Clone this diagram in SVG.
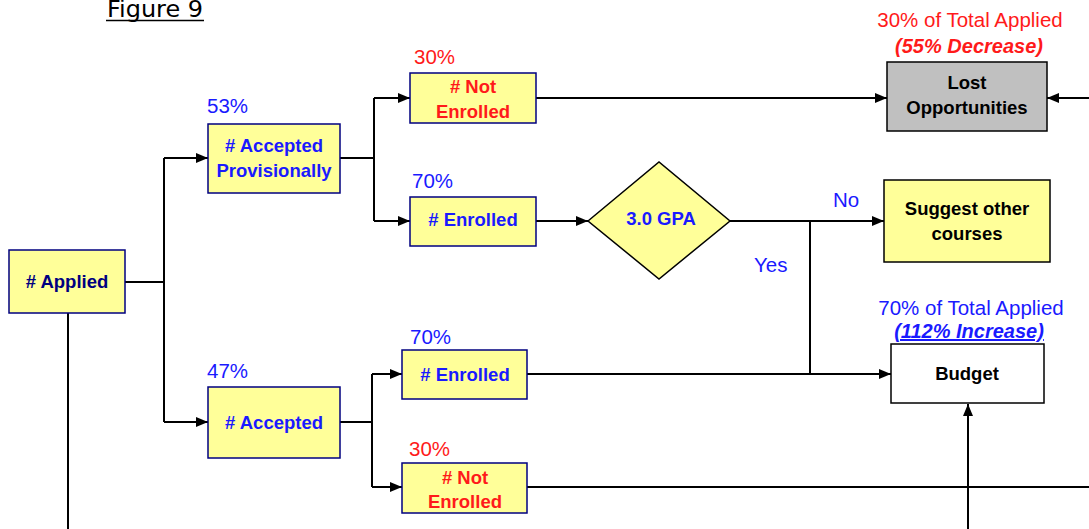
<svg xmlns="http://www.w3.org/2000/svg" width="1089" height="529" viewBox="0 0 1089 529">
<style>
.box{fill:#FFFF99;stroke:#000080;stroke-width:1.5}
.bt{font-family:"Liberation Sans",Arial,sans-serif;font-weight:bold;font-size:18.5px;text-anchor:middle}
.lbl{font-family:"Liberation Sans",Arial,sans-serif;font-size:20.5px}
.blue{fill:#1a1aff}
.red{fill:#ff1a1a}
.navy{fill:#000080}
.blk{fill:#000}
.bi{font-family:"Liberation Sans",Arial,sans-serif;font-weight:bold;font-style:italic;font-size:20px;text-anchor:middle}
.ln{fill:none;stroke:#000;stroke-width:2}
</style>
<defs>
<marker id="ah" viewBox="0 0 12 10" refX="12" refY="5" markerWidth="12" markerHeight="10" markerUnits="userSpaceOnUse" orient="auto">
<path d="M0,0 L12,5 L0,10 Z" fill="#000"/>
</marker>
</defs>
<rect width="1089" height="529" fill="#fff"/>
<g id="title">
<text x="107" y="17" font-family="'DejaVu Sans',Verdana,sans-serif" font-size="23" textLength="96" lengthAdjust="spacingAndGlyphs" fill="#000">Figure 9</text>
<line x1="106" y1="20.5" x2="204" y2="20.5" stroke="#000" stroke-width="1.5"/>
</g>
<g id="connectors">
<path class="ln" d="M125,282 H164 M164,158 V422"/>
<path class="ln" d="M164,158 H208" marker-end="url(#ah)"/>
<path class="ln" d="M164,422 H208" marker-end="url(#ah)"/>
<path class="ln" d="M68,313 V529"/>
<path class="ln" d="M340,158 H374 M374,98 V221"/>
<path class="ln" d="M374,98 H410" marker-end="url(#ah)"/>
<path class="ln" d="M374,221 H410" marker-end="url(#ah)"/>
<path class="ln" d="M536,98 H887" marker-end="url(#ah)"/>
<path class="ln" d="M1089,98 H1047" marker-end="url(#ah)"/>
<path class="ln" d="M536,221 H588" marker-end="url(#ah)"/>
<path class="ln" d="M730,221 H884" marker-end="url(#ah)"/>
<path class="ln" d="M810,221 V374"/>
<path class="ln" d="M527,374 H891" marker-end="url(#ah)"/>
<path class="ln" d="M340,422 H372 M372,374 V487"/>
<path class="ln" d="M372,374 H402" marker-end="url(#ah)"/>
<path class="ln" d="M372,487 H402" marker-end="url(#ah)"/>
<path class="ln" d="M527,487 H1089"/>
<path class="ln" d="M968,529 V404" marker-end="url(#ah)"/>
<text class="lbl blue" x="833" y="207">No</text>
<text class="lbl blue" x="754" y="272">Yes</text>
</g>
<g id="applied">
<rect class="box" x="9" y="250" width="116" height="63"/>
<text class="bt navy" x="67" y="288">&#35; Applied</text>
</g>
<g id="accepted-prov">
<text class="lbl blue" x="207" y="113">53%</text>
<rect class="box" x="208" y="124" width="132" height="69"/>
<text class="bt blue" x="274" y="152">&#35; Accepted</text>
<text class="bt blue" x="274" y="177">Provisionally</text>
</g>
<g id="not-enrolled-1">
<text class="lbl red" x="414" y="64">30%</text>
<rect class="box" x="410" y="73" width="126" height="50"/>
<text class="bt red" x="473" y="93">&#35; Not</text>
<text class="bt red" x="473" y="117.5">Enrolled</text>
</g>
<g id="enrolled-1">
<text class="lbl blue" x="412" y="188">70%</text>
<rect class="box" x="410" y="197" width="126" height="49"/>
<text class="bt blue" x="473" y="226">&#35; Enrolled</text>
</g>
<g id="gpa">
<polygon points="588,221 659,162 730,221 659,279" fill="#FFFF99" stroke="#000" stroke-width="1.5"/>
<text class="bt blue" x="661" y="225">3.0 GPA</text>
</g>
<g id="lost">
<text class="lbl red" x="970" y="27" text-anchor="middle">30% of Total Applied</text>
<text class="bi red" x="969" y="53">(55% Decrease)</text>
<rect x="887" y="62" width="160" height="69" fill="#C0C0C0" stroke="#000" stroke-width="1.5"/>
<text class="bt blk" x="967" y="89">Lost</text>
<text class="bt blk" x="967" y="114">Opportunities</text>
</g>
<g id="suggest">
<rect x="884" y="180" width="166" height="82" fill="#FFFF99" stroke="#000" stroke-width="1.5"/>
<text class="bt blk" x="967" y="214.5">Suggest other</text>
<text class="bt blk" x="967" y="239.5">courses</text>
</g>
<g id="budget">
<text class="lbl blue" x="971" y="315" text-anchor="middle">70% of Total Applied</text>
<text class="bi blue" x="969" y="338" text-decoration="underline">(112% Increase)</text>
<rect x="891" y="344" width="153" height="59" fill="#fff" stroke="#000" stroke-width="1.5"/>
<text class="bt blk" x="967" y="380">Budget</text>
</g>
<g id="accepted">
<text class="lbl blue" x="207" y="378">47%</text>
<rect class="box" x="208" y="387" width="132" height="71"/>
<text class="bt blue" x="274" y="429">&#35; Accepted</text>
</g>
<g id="enrolled-2">
<text class="lbl blue" x="410" y="344">70%</text>
<rect class="box" x="402" y="350" width="125" height="49"/>
<text class="bt blue" x="465" y="381">&#35; Enrolled</text>
</g>
<g id="not-enrolled-2">
<text class="lbl red" x="409" y="456">30%</text>
<rect class="box" x="402" y="463" width="125" height="50"/>
<text class="bt red" x="465" y="483.5">&#35; Not</text>
<text class="bt red" x="465" y="507.5">Enrolled</text>
</g>
</svg>
